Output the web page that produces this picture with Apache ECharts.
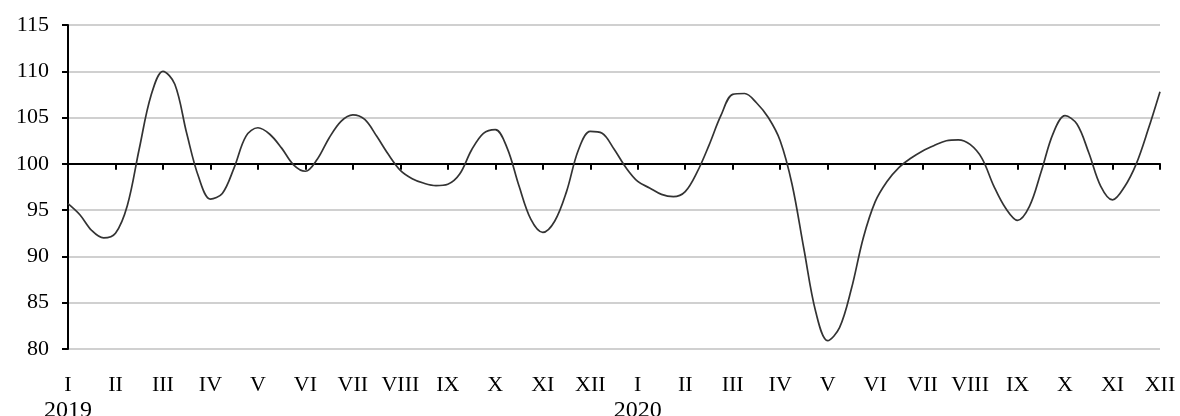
<!DOCTYPE html>
<html>
<head>
<meta charset="utf-8">
<script src="https://cdn.jsdelivr.net/npm/echarts@6/dist/echarts.min.js"></script>
<style>
html,body{margin:0;padding:0;background:#fff;}
#chart{width:1180px;height:416px;}
</style>
</head>
<body>
<div id="chart"></div>
<script>
// Month tick labels (24 months, Jan 2019 .. Dec 2020)
const monthLabels = ['I','II','III','IV','V','VI','VII','VIII','IX','X','XI','XII',
                     'I','II','III','IV','V','VI','VII','VIII','IX','X','XI','XII'];
const yearLabels = {0: '2019', 12: '2020'};
// Y axis ticks
const yTicks = [80, 85, 90, 95, 100, 105, 110, 115];
// Reference level where the horizontal axis crosses
const BASE = 100;
// Readings per month (quarter-month resolution)
const PER_MONTH = 4;
// Index values, quarter-month steps from I 2019 to XII 2020
const values = [
  95.7, 94.5, 92.8, 92.0,     // I 2019
  92.5, 95.5, 101.6, 107.4,   // II
  110.0, 108.6, 103.3, 98.6,  // III
  96.2, 96.8, 99.6, 103.0,    // IV
  103.9, 103.2, 101.7, 99.9,  // V
  99.2, 100.5, 102.8, 104.6,  // VI
  105.3, 104.8, 103.0, 101.0, // VII
  99.3, 98.4, 97.9, 97.65,    // VIII
  97.8, 98.9, 101.5, 103.3,   // IX
  103.7, 101.7, 97.6, 94.0,   // X
  92.6, 93.8, 97.0, 101.5,    // XI
  103.5, 103.3, 101.6, 99.6,  // XII
  98.1, 97.4, 96.7, 96.45,    // I 2020
  97.0, 99.1, 102.0, 105.2,   // II
  107.5, 107.6, 106.6, 105.0, // III
  102.5, 97.8, 90.8, 84.0,    // IV
  80.9, 82.3, 86.5, 92.0,     // V
  95.9, 98.1, 99.6, 100.6,    // VI
  101.4, 102.0, 102.5, 102.6, // VII
  102.1, 100.6, 97.6, 95.2,   // VIII
  93.9, 95.4, 99.2, 103.3,    // IX
  105.2, 104.3, 101.2, 97.6,  // X
  96.1, 97.5, 100.0, 103.7,   // XI
  107.8                       // XII
];

const chart = echarts.init(document.getElementById('chart'));
const FONT = 'Liberation Serif';
const lastIdx = monthLabels.length - 1;

chart.setOption({
  animation: false,
  backgroundColor: '#ffffff',
  grid: { left: 68, right: 20, top: 25, bottom: 67, containLabel: false, outerBoundsMode: 'none' },
  xAxis: [
    {
      type: 'value',
      min: 0, max: lastIdx, interval: 1,
      position: 'bottom',
      axisLine: { show: false, onZero: false },
      axisTick: { show: false },
      splitLine: { show: false },
      axisLabel: {
        show: true,
        showMinLabel: true, showMaxLabel: true,
        margin: 24,
        fontFamily: FONT, fontSize: 22, color: '#000', lineHeight: 25,
        formatter: function (v) {
          const i = Math.round(v);
          return '{m|' + monthLabels[i] + '}' + (yearLabels[i] ? '\n{y|' + yearLabels[i] + '}' : '');
        },
        rich: {
          m: { fontFamily: FONT, fontSize: 22, lineHeight: 25, color: '#000' },
          y: { fontFamily: FONT, fontSize: 24, lineHeight: 25, color: '#000' }
        }
      }
    },
    {
      type: 'value',
      min: 0, max: lastIdx, interval: 1,
      position: 'bottom',
      axisLine: { show: true, onZero: true, lineStyle: { color: '#000', width: 2 } },
      axisTick: { show: true, length: 6, lineStyle: { color: '#000', width: 2 } },
      splitLine: { show: false },
      axisLabel: { show: false }
    }
  ],
  yAxis: {
    type: 'value',
    min: yTicks[0] - BASE,
    max: yTicks[yTicks.length - 1] - BASE,
    interval: yTicks[1] - yTicks[0],
    axisLine: { show: true, onZero: false, lineStyle: { color: '#000', width: 2 } },
    axisTick: { show: true, length: 6, lineStyle: { color: '#000', width: 2 } },
    splitLine: { show: true, lineStyle: { color: '#c0c0c0', width: 1.5 } },
    axisLabel: {
      margin: 19,
      fontFamily: FONT, fontSize: 22, color: '#000',
      formatter: function (v) { return String(v + BASE); }
    }
  },
  series: [{
    type: 'line',
    xAxisIndex: 0,
    data: values.map(function (v, i) { return [i / PER_MONTH, v - BASE]; }),
    smooth: 0.35,
    showSymbol: false,
    symbol: 'none',
    lineStyle: { color: '#333333', width: 1.7 },
    z: 3
  }]
});
</script>
</body>
</html>
